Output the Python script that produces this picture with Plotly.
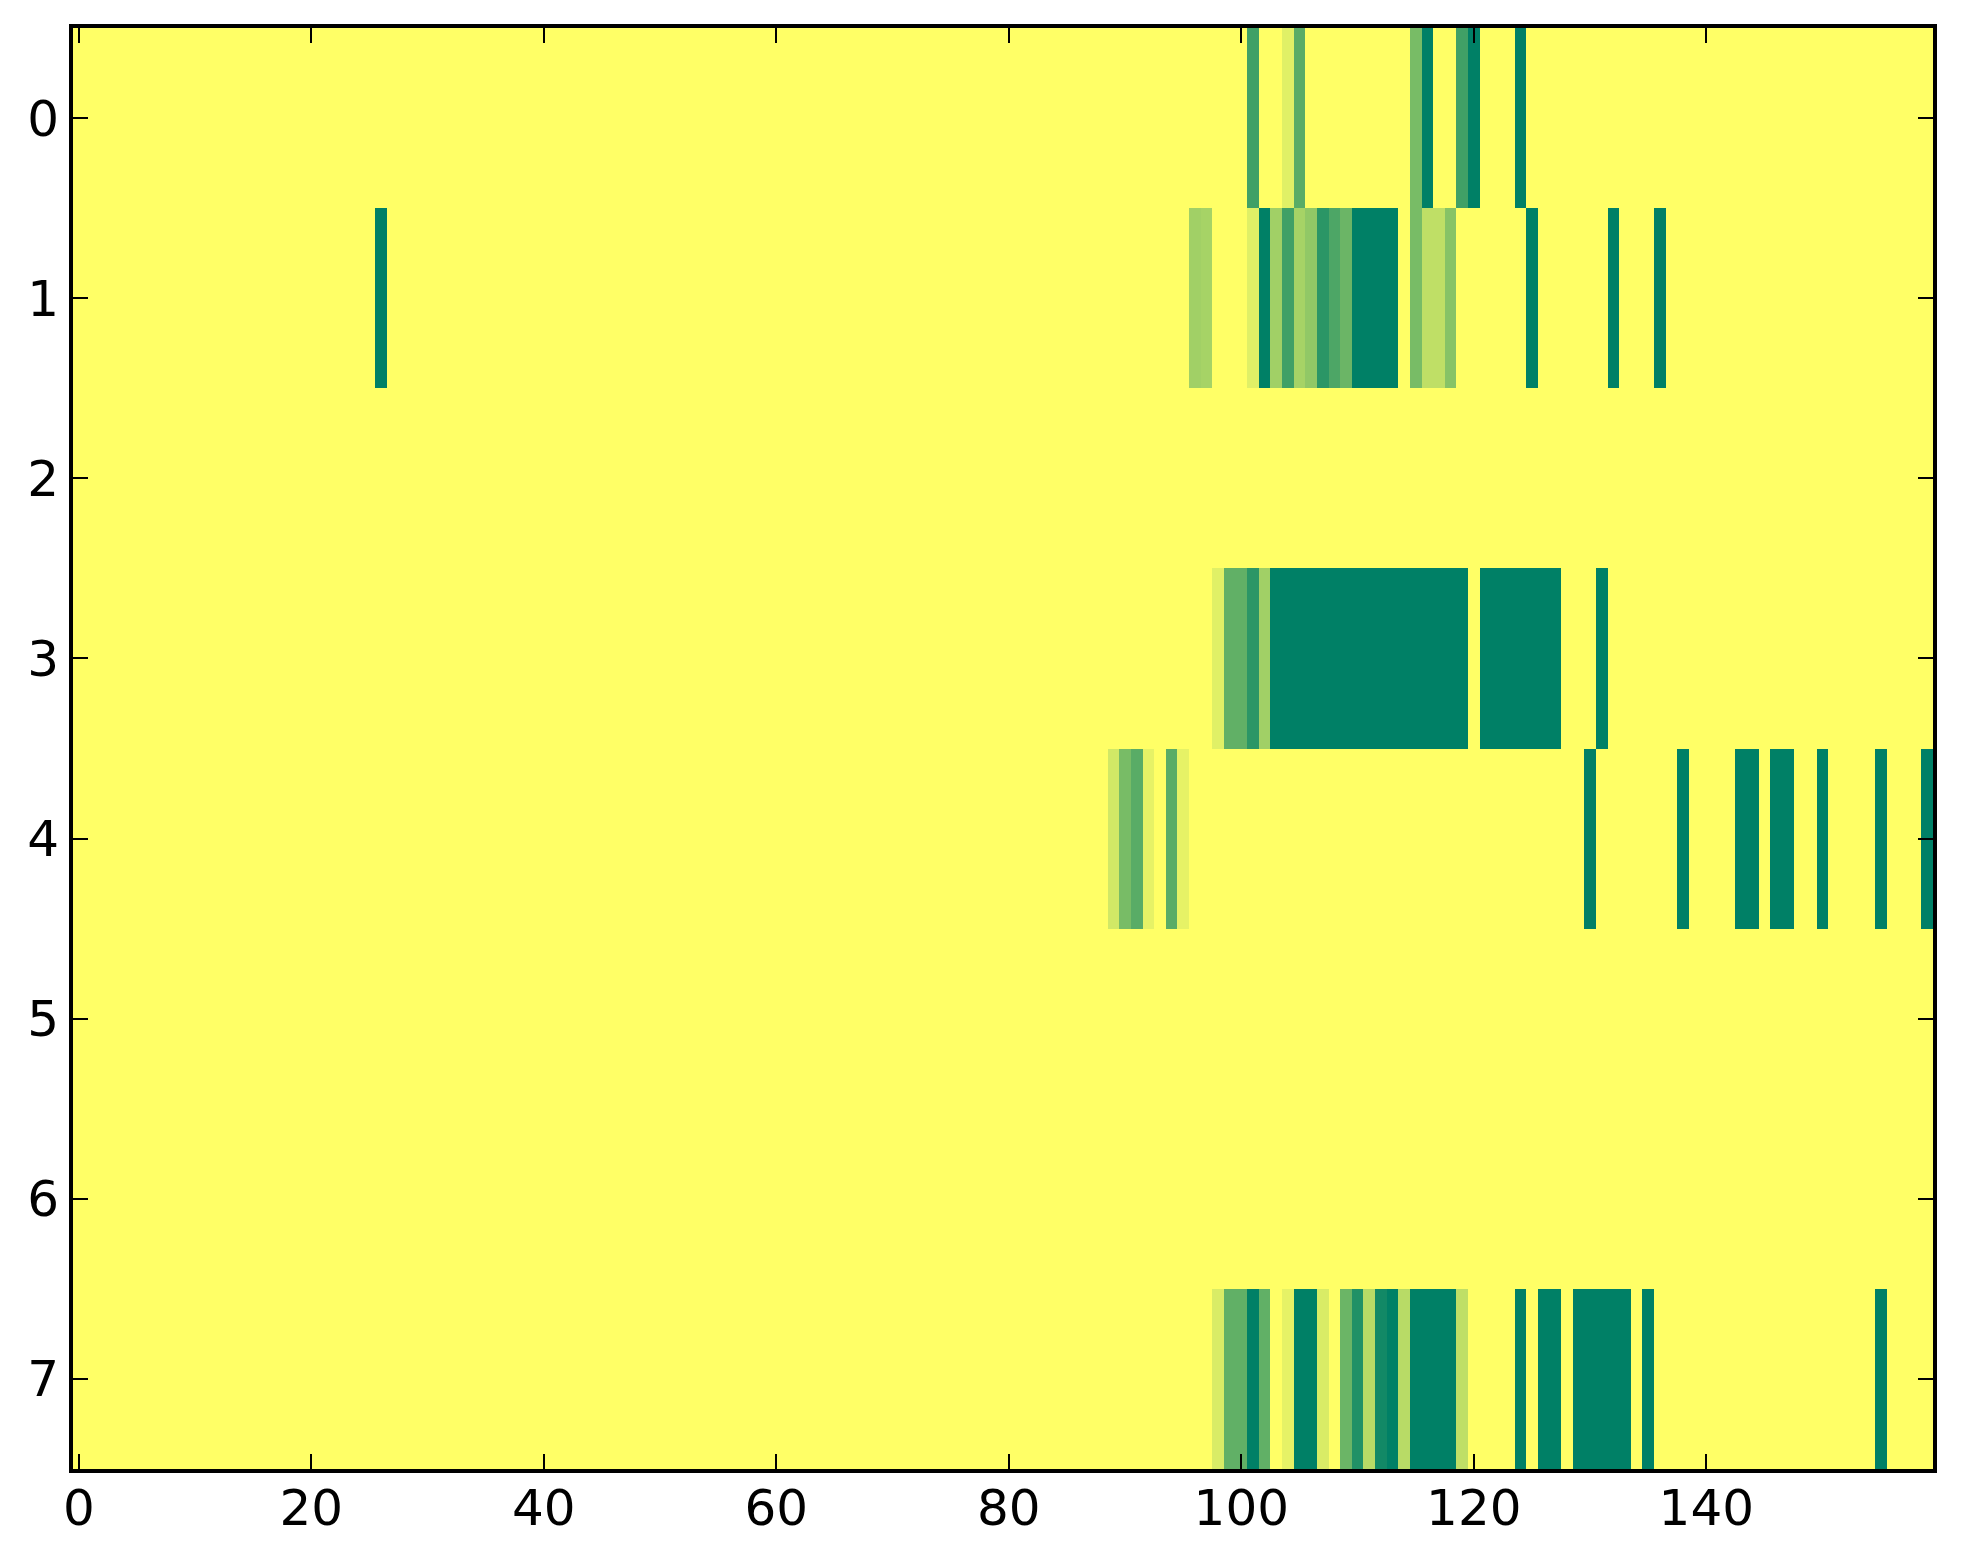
import numpy as np
import plotly.graph_objects as go

n_rows = 8
n_cols = 160

# nonzero cells per row: column index and value (0 = yellow, 1 = dark green)
row0_cols = [101, 104, 105, 115, 116, 119, 120, 124]
row0_vals = [0.75, 0.12, 0.65, 0.53, 1, 0.75, 1, 1]

row1_cols = [26, 96, 97, 101, 102, 103, 104, 105, 106, 107, 108, 109, 110, 111, 112, 113,
             115, 116, 117, 118, 125, 132, 136]
row1_vals = [1, 0.37, 0.35, 0.12, 1, 0.37, 0.75, 0.35, 0.43, 0.83, 0.7, 0.58, 1, 1, 1, 1,
             0.53, 0.25, 0.25, 0.47, 1, 1, 1]

row3_cols = [98, 99, 100, 101, 102] + list(range(103, 120)) + list(range(121, 128)) + [131]
row3_vals = [0.12, 0.62, 0.62, 0.83, 0.37] + [1] * 17 + [1] * 7 + [1]

row4_cols = [89, 90, 91, 92, 94, 95, 130, 138, 143, 144, 146, 147, 150, 155, 159]
row4_vals = [0.18, 0.53, 0.65, 0.1, 0.65, 0.1, 1, 1, 1, 1, 1, 1, 1, 1, 1]

row7_cols = [98, 99, 100, 101, 102, 104, 105, 106, 107, 109, 110, 111, 112, 113, 114,
             115, 116, 117, 118, 119, 124, 126, 127, 129, 130, 131, 132, 133, 135, 155]
row7_vals = [0.15, 0.62, 0.62, 1, 0.62, 0.1, 1, 1, 0.15, 0.58, 0.87, 0.28, 0.93, 1, 0.28,
             1, 1, 1, 1, 0.25, 1, 1, 1, 1, 1, 1, 1, 1, 1, 1]

x_ticks = [0, 20, 40, 60, 80, 100, 120, 140]
y_ticks = [0, 1, 2, 3, 4, 5, 6, 7]

z = np.zeros((n_rows, n_cols))
for r, cols, vals in [(0, row0_cols, row0_vals), (1, row1_cols, row1_vals),
                      (3, row3_cols, row3_vals), (4, row4_cols, row4_vals),
                      (7, row7_cols, row7_vals)]:
    z[r, cols] = vals

# matplotlib summer_r
summer_r = [[0, 'rgb(255,255,102)'], [1, 'rgb(0,128,102)']]

fig = go.Figure()
fig.add_trace(go.Heatmap(z=z, x=list(range(n_cols)), y=list(range(n_rows)),
                         colorscale=summer_r, zmin=0, zmax=1, showscale=False))

axis_style = dict(showline=True, linecolor='black', linewidth=4, mirror='allticks',
                  ticks='inside', ticklen=15, tickwidth=2, tickcolor='black',
                  showgrid=False, zeroline=False,
                  tickfont=dict(family='DejaVu Sans', size=50, color='black'))

fig.update_xaxes(range=[-0.5, 159.5], tickvals=x_ticks, ticklabelstandoff=-8, **axis_style)
fig.update_yaxes(range=[7.5, -0.5], tickvals=y_ticks, ticklabelstandoff=0, **axis_style)

# page body has an 8px margin, so the figure is a little smaller than the window
fig.update_layout(width=1955, height=1556, paper_bgcolor='white', plot_bgcolor='white',
                  margin=dict(l=65, r=30, t=20, b=95))

fig.write_html("out.html")
